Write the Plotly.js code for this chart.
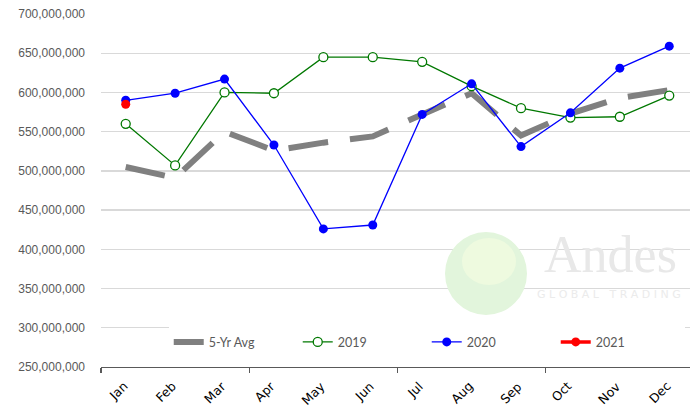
<!DOCTYPE html>
<html>
<head>
<meta charset="utf-8">
<script src="https://cdn.plot.ly/plotly-3.0.1.min.js"></script>
<style>html,body{margin:0;padding:0;background:#fff;}#chart{width:690px;height:407px;}</style>
</head>
<body>
<div id="chart"></div>
<script>
const months = ["Jan","Feb","Mar","Apr","May","Jun","Jul","Aug","Sep","Oct","Nov","Dec"];
const avg5yr = [505e6, 491e6, 550e6, 526e6, 536e6, 544e6, 572e6, 599e6, 545e6, 573e6, 593e6, 603e6];
const y2019 = [560e6, 507e6, 600e6, 599e6, 645e6, 645e6, 639e6, 608e6, 580e6, 568e6, 569e6, 596e6];
const y2020 = [590e6, 599e6, 617e6, 533e6, 426e6, 431e6, 572e6, 611e6, 531e6, 574e6, 631e6, 659e6];
const y2021 = [585e6];
const yTicks = [250e6, 300e6, 350e6, 400e6, 450e6, 500e6, 550e6, 600e6, 650e6, 700e6];
const monthIdx = months.map((m, i) => i);
const boundaryTicks = [-0.5, 2.5, 5.5, 8.5, 11.5];

const traces = [
  {x: monthIdx, y: avg5yr, name: "5-Yr Avg", type: "scatter", mode: "lines",
   line: {color: "#808080", width: 6, dash: "40px,22px"}},
  {x: monthIdx, y: y2019, name: "2019", type: "scatter", mode: "lines+markers",
   line: {color: "#007800", width: 1.3},
   marker: {symbol: "circle", size: 9, color: "#ffffff", line: {color: "#007800", width: 1.3}}},
  {x: monthIdx, y: y2020, name: "2020", type: "scatter", mode: "lines+markers",
   line: {color: "#0000ff", width: 1.3},
   marker: {symbol: "circle", size: 9, color: "#0000ff"}},
  {x: monthIdx.slice(0, y2021.length), y: y2021, name: "2021", type: "scatter", mode: "lines+markers",
   line: {color: "#ff0000", width: 3.5},
   marker: {symbol: "circle", size: 9, color: "#ff0000"}}
];

const L = 101, T = 14, W = 589, H = 353;
const px = v => (v - L) / W;
const py = v => (T + H - v) / H;

// month labels drawn as rotated annotations at each category position
const monthLabels = months.map((m, i) => ({
  xref: "x", yref: "paper", x: monthIdx[i], y: 0, xanchor: "right", yanchor: "top",
  xshift: 7, yshift: -9, text: m, textangle: -45, showarrow: false,
  font: {family: "'DejaVu Sans', sans-serif", size: 12.5, color: "#000000"}
}));

const layout = {
  width: 690, height: 407,
  margin: {l: L, r: 690 - L - W, t: T, b: 407 - T - H},
  paper_bgcolor: "#ffffff", plot_bgcolor: "#ffffff",
  font: {family: "Lato, 'Liberation Sans', sans-serif", color: "#595959", size: 12},
  showlegend: true,
  legend: {orientation: "h", x: 0.115, xanchor: "left", y: 0.07, yanchor: "middle",
           bgcolor: "#ffffff", entrywidth: 84, entrywidthmode: "pixels",
           font: {size: 12.5, color: "#595959"}, traceorder: "normal"},
  xaxis: {type: "linear", range: [-0.5, 11.42], showgrid: false, zeroline: false,
          showline: true, linecolor: "#595959", linewidth: 1.3,
          tickmode: "array", tickvals: boundaryTicks, ticks: "outside", ticklen: 5,
          tickcolor: "#595959", tickwidth: 1.3, showticklabels: false, fixedrange: true},
  yaxis: {range: [250e6, 700e6], tickmode: "array", tickvals: yTicks, tickformat: ",.0f",
          showgrid: true, gridcolor: "#d9d9d9", gridwidth: 1.3, zeroline: false, showline: false,
          ticks: "", ticklabelstandoff: 15,
          tickfont: {family: "'Liberation Sans', sans-serif", size: 12, color: "#595959"}},
  shapes: [
    {type: "circle", xref: "paper", yref: "paper", layer: "above",
     x0: px(445), x1: px(527), y0: py(315), y1: py(232),
     fillcolor: "#e2f5dc", line: {width: 0}},
    {type: "circle", xref: "paper", yref: "paper", layer: "above",
     x0: px(462), x1: px(516), y0: py(285), y1: py(238),
     fillcolor: "#eefadf", line: {width: 0}}
  ],
  annotations: [
    {xref: "paper", yref: "paper", x: px(610), y: py(255), xanchor: "center", yanchor: "middle",
     text: "Andes", showarrow: false,
     font: {family: "'Liberation Serif', serif", size: 52, color: "#e8e8e8"}},
    {xref: "paper", yref: "paper", x: px(609), y: py(294), xanchor: "center", yanchor: "middle",
     text: "G L O B A L   T R A D I N G", showarrow: false,
     font: {family: "'DejaVu Sans', sans-serif", size: 11, color: "#ebebeb"}}
  ].concat(monthLabels)
};

// express rotate(a,cx,cy) as an equivalent matrix() for renderers that ignore the 3-argument form
function rotateToMatrix(root) {
  root.querySelectorAll('[transform]').forEach(el => {
    const t = el.getAttribute('transform');
    const n = t.replace(/rotate\(\s*([-\d.e]+)[,\s]+([-\d.e]+)[,\s]+([-\d.e]+)\s*\)/g, (m, a, cx, cy) => {
      const r = +a * Math.PI / 180, c = Math.cos(r), s = Math.sin(r);
      cx = +cx; cy = +cy;
      return 'matrix(' + [c, s, -s, c, cx - c * cx + s * cy, cy - s * cx - c * cy].join(',') + ')';
    });
    if (n !== t) el.setAttribute('transform', n);
  });
}

Plotly.newPlot("chart", traces, layout, {staticPlot: true, displayModeBar: false})
  .then(gd => rotateToMatrix(gd));
</script>
</body>
</html>
